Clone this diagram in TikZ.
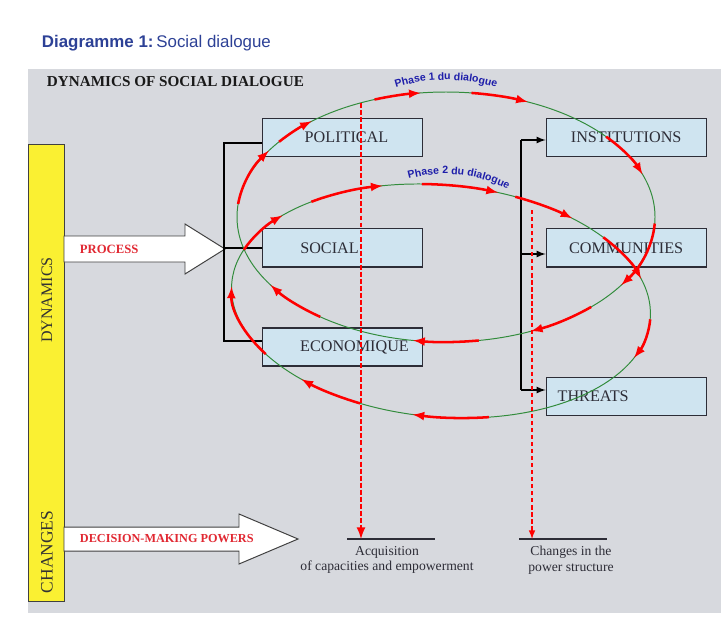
\documentclass[tikz,border=0pt]{standalone}
\usepackage{fontspec}
\setmainfont{Liberation Serif}
\setsansfont{Liberation Sans}
\usetikzlibrary{arrows,calc,decorations.text,positioning}

\definecolor{panelgray}{RGB}{215,217,222}
\definecolor{baryellow}{RGB}{250,240,50}
\definecolor{boxblue}{RGB}{207,228,240}
\definecolor{titleblue}{RGB}{45,65,150}
\definecolor{phaseblue}{RGB}{30,30,170}
\definecolor{loopgreen}{RGB}{50,140,60}
\definecolor{hintred}{RGB}{225,40,50}
\definecolor{inkgray}{RGB}{45,45,55}

\newcommand{\phasefont}{\sffamily\bfseries\fontsize{7.5}{8}\selectfont}

\tikzset{%
	block/.style    = {draw=inkgray, fill=boxblue, rectangle, line width=0.8pt, minimum width=4cm, minimum height=0.95cm, text=inkgray, font=\fontsize{11.5}{13}\selectfont},
	bar/.style      = {draw=black!75, fill=baryellow, line width=0.6pt}, % side bar
	bararrow/.style = {draw=black!75, fill=white, line width=0.7pt}, % block arrow
	hint/.style     = {text=hintred, font=\fontsize{9}{10}\selectfont\bfseries, anchor=west},
	outcome/.style  = {align=center, text=inkgray, font=\fontsize{9.7}{11}\selectfont, anchor=north, inner sep=0pt},
	waypoint/.style = {coordinate},
}
\tikzset{%
	bracket/.style  = {line width=1.2pt, black},
	phaseloop/.style= {draw=loopgreen, line width=0.7pt},
	turn/.style     = {draw=red, line width=1.8pt, -latex},
	drop/.style     = {draw=red, -latex},
}

\begin{document}
\begin{tikzpicture}[x=0.025cm,y=-0.025cm,node distance=2.76cm,>=latex]
	\useasboundingbox (0,0) rectangle (721,618);
	\fill[panelgray] (28,69) rectangle (721,613);
	\node[anchor=base west, text=titleblue, font=\sffamily\fontsize{12}{14}\selectfont] (title) at (37,47) {\textbf{Diagramme 1:}\,Social dialogue};
	\node[anchor=base west, text=black!90, font=\bfseries\fontsize{10.8}{12}\selectfont] (head) at (42,86) {DYNAMICS OF SOCIAL DIALOGUE};

	% yellow side bar
	\draw[bar] (28,144) rectangle (64,601);
	\node[rotate=90, text=black!80, font=\fontsize{11.4}{12}\selectfont] (dyn) at (47,300) {DYNAMICS};
	\node[rotate=90, text=black!80, font=\fontsize{12.4}{13}\selectfont] (chg) at (47,552) {CHANGES};

	% block arrows
	\draw[bararrow] (64,236) -- (185,236) -- (185,224) -- (225,249) -- (185,274) -- (185,262) -- (64,262) -- cycle;
	\node[hint] (proc) at (75,249) {PROCESS};
	\draw[bararrow] (64,527) -- (239,527) -- (239,514) -- (298,539) -- (239,564) -- (239,551) -- (64,551) -- cycle;
	\node[hint, font=\fontsize{8.7}{10}\selectfont\bfseries] (dec) at (75,539) {DECISION-MAKING POWERS};

	% boxes
	\node [block] (pol) at (342.5,137.5) {\kern0.2cm POLITICAL};
	\node [block] (soc) [below of=pol] {SOCIAL\kern0.65cm};
	\node [block] (eco) [below of=soc,node distance=2.475cm] {\kern0.6cm ECONOMIQUE};
	\node [block] (inst) [right of=pol,node distance=7.09cm] {INSTITUTIONS};
	\node [block] (com) [below of=inst] {COMMUNITIES};
	\node [block] (thr) [below of=com,node distance=3.71cm] {THREATS\kern1.65cm};

	% brackets
	\node [waypoint] (lt) at (224,143) {};
	\node [waypoint] (lb) at (224,341) {};
	\node [waypoint] (rt) at (521,140) {};
	\node [waypoint] (rm) at (521,254) {};
	\node [waypoint] (rb) at (521,390) {};
	\draw[bracket] (pol.west |- lt) -- (lt) -- (lb) -- (eco.west |- lb);
	\draw[bracket] (lt |- soc.west) -- (soc.west);
	\draw[bracket] (rt) -- (rb);
	\draw[bracket,->] (rt) -- (rt -| inst.west);
	\draw[bracket,->] (rm) -- (rm -| com.west);
	\draw[bracket,->] (rb) -- (rb -| thr.west);

	% the two phases
	\coordinate (c1) at (446,217);
	\coordinate (c2) at (441,301);
	\draw[phaseloop] (c1) ellipse [x radius=209, y radius=125];
	\draw[phaseloop, rotate around={-5:(c2)}] (c2) ellipse [x radius=210, y radius=116];
	\begin{scope}[shift={(c1)}]
		\foreach \a/\b in {186/212, 217/230, 250/263, 277/293, 320/340, 3/33, 46/66, 81/99, 127/147}
			\draw[turn] (\a:209 and 125) arc [start angle=\a, end angle=\b, x radius=209, y radius=125];
	\end{scope}
	\begin{scope}[shift={(c2)}, rotate=-5]
		\foreach \a/\b in {197/218, 229/251, 262/283, 288/306, 318/340, 0/20, 74/95, 110/129, 144/178}
			\draw[turn] (\a:210 and 116) arc [start angle=\a, end angle=\b, x radius=210, y radius=116];
	\end{scope}
	\path[decorate, decoration={text along path, text align=center, text color=phaseblue, text={|\phasefont|Phase 1 du dialogue}}] (446,250) ++(248:170) arc [start angle=248, end angle=292, radius=170];
	\path[decorate, decoration={text along path, text align=center, text color=phaseblue, text={|\phasefont|Phase 2 du dialogue}}] (445,310) ++(250:136) arc [start angle=250, end angle=302, radius=136];

	% outcomes
	\node [waypoint] (acqL) at (347,539) {};
	\node [waypoint] (acqR) at (435,539) {};
	\node [waypoint] (chgL) at (519,539) {};
	\node [waypoint] (chgR) at (607,539) {};
	\draw[thick, inkgray] (acqL) -- (acqR);
	\draw[thick, inkgray] (chgL) -- (chgR);
	\node[outcome] (acq) at (387,546) {Acquisition\\of capacities and empowerment};
	\node[outcome] (pow) at (571,546) {Changes in the\\power structure};

	% drops
	\node [waypoint] (d1) at (361,103) {};
	\node [waypoint] (d2) at (532,210) {};
	\draw[drop, line width=1.8pt, dash pattern=on 3.5pt off 1.5pt] (d1) -- (d1 |- acqL);
	\draw[drop, line width=1.1pt, dash pattern=on 3pt off 2pt] (d2) -- (d2 |- chgL);
\end{tikzpicture}
\end{document}
